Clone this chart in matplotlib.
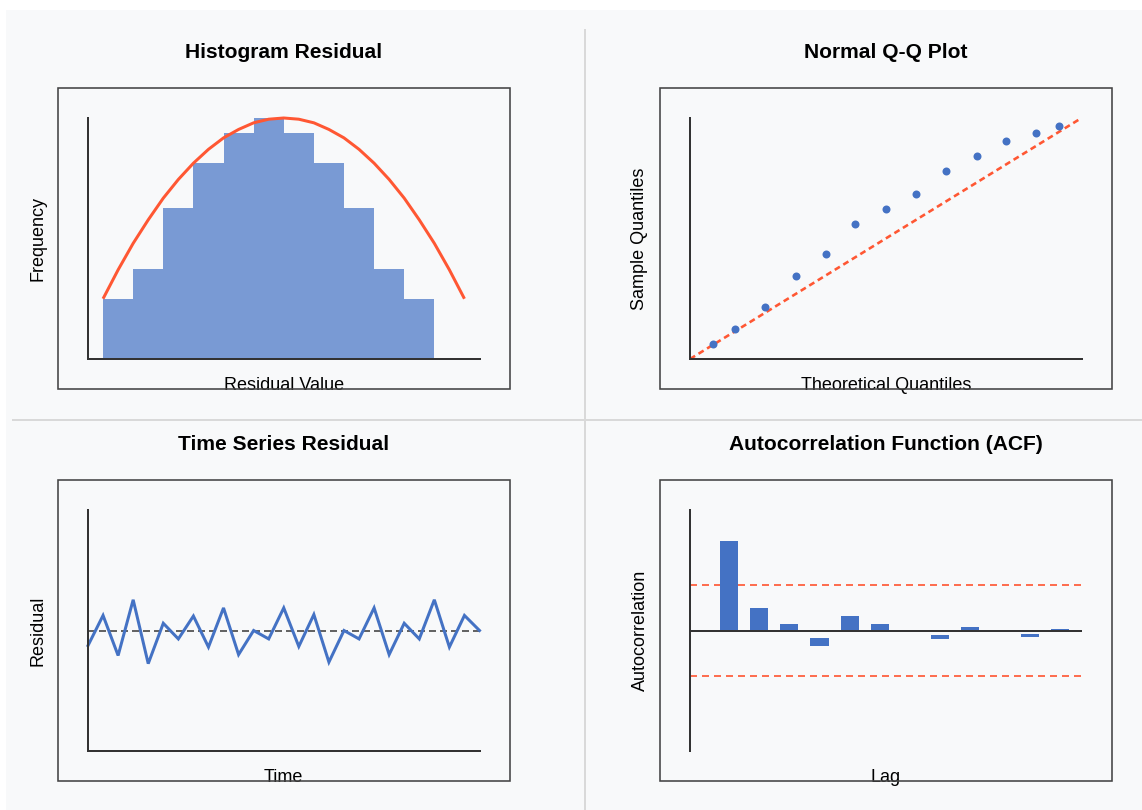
import matplotlib
matplotlib.use("Agg")
import matplotlib.pyplot as plt
from matplotlib.patches import Rectangle
from matplotlib.lines import Line2D

plt.rcParams['font.family'] = ['Liberation Sans', 'DejaVu Sans']
plt.rcParams['lines.scale_dashes'] = False

W, H, DPI = 1142, 810, 100
PT = 0.72  # points per pixel at 100 dpi

# ---------------- data ----------------
titles = ["Histogram Residual", "Normal Q-Q Plot", "Time Series Residual", "Autocorrelation Function (ACF)"]
xlabels = ["Residual Value", "Theoretical Quantiles", "Time", "Lag"]
ylabels = ["Frequency", "Sample Quantiles", "Residual", "Autocorrelation"]

hist_bin_left = [-3.0, -2.5, -2.0, -1.5, -1.0, -0.5, 0.0, 0.5, 1.0, 1.5, 2.0]
hist_freq = [10, 15, 25, 32.5, 37.5, 40, 37.5, 32.5, 25, 15, 10]
curve_x = [-3.0, -2.75, -2.5, -2.25, -2.0, -1.75, -1.5, -1.25, -1.0, -0.75, -0.5, -0.25, 0.0,
           0.25, 0.5, 0.75, 1.0, 1.25, 1.5, 1.75, 2.0, 2.25, 2.5, 2.75, 3.0]
curve_y = [10.0, 14.8, 19.2, 23.1, 26.7, 29.8, 32.5, 34.8, 36.7, 38.1, 39.2, 39.8, 40.0,
           39.8, 39.2, 38.1, 36.7, 34.8, 32.5, 29.8, 26.7, 23.1, 19.2, 14.8, 10.0]

qq_theoretical = [-1.77, -1.54, -1.23, -0.92, -0.61, -0.31, 0.0, 0.31, 0.62, 0.93, 1.23, 1.54, 1.77]
qq_sample = [-1.75, -1.51, -1.13, -0.63, -0.26, 0.24, 0.49, 0.74, 1.12, 1.37, 1.62, 1.75, 1.87]
qq_ref_x = [-2.0, 2.0]
qq_ref_y = [-2.0, 2.0]

ts_time = list(range(27))
ts_resid = [-0.5, 0.5, -0.83, 1.02, -1.1, 0.24, -0.28, 0.48, -0.55, 0.75, -0.8, 0.0, -0.28, 0.75,
            -0.53, 0.53, -1.05, 0.0, -0.28, 0.75, -0.8, 0.24, -0.28, 1.02, -0.55, 0.5, 0.0]

acf_lag = [1, 2, 3, 4, 5, 6, 7, 8, 9, 10, 11, 12]
acf_val = [0.744, 0.185, 0.055, -0.064, 0.121, 0.055, 0.0, -0.036, 0.025, 0.0, -0.025, 0.012]
acf_conf = 0.375

# ---------------- styles ----------------
BG = "#f8f9fa"
BLUE = "#4472c4"
RED = "#ff5733"
AXC = "#333333"

fig = plt.figure(figsize=(W / DPI, H / DPI), dpi=DPI, facecolor="white")

bg = fig.add_axes([0, 0, 1, 1], zorder=-5)
bg.set_xlim(0, W)
bg.set_ylim(H, 0)
bg.axis("off")
bg.add_patch(Rectangle((6, 10), W - 6, H - 10, facecolor=BG, edgecolor="none", zorder=0))
# dividers
bg.add_line(Line2D([585, 585], [30, H], color="#d9d9d9", lw=2 * PT, zorder=1))
bg.add_line(Line2D([13, W], [420, 420], color="#d9d9d9", lw=2 * PT, zorder=1))

boxes = [(57.5, 88), (659.5, 88), (57.5, 480), (659.5, 480)]
BW, BH = 452, 301
ML, MT = 30.5, 30
IW, IH = 391.5, 241


def px_axes(x0, y0, w, h):
    ax = fig.add_axes([x0 / W, 1 - (y0 + h) / H, w / W, h / H])
    ax.set_facecolor("none")
    for s in ["top", "right"]:
        ax.spines[s].set_visible(False)
    for s in ["left", "bottom"]:
        ax.spines[s].set_color(AXC)
        ax.spines[s].set_linewidth(2 * PT)
    ax.set_xticks([])
    ax.set_yticks([])
    return ax


axes = []
for i, (bx, by) in enumerate(boxes):
    rect = Rectangle((bx, by), BW, BH, facecolor="none", edgecolor="#444444", lw=1.6 * PT, zorder=5)
    bg.add_patch(rect)
    cx = bx + ML + IW / 2
    bg.text(bx + BW / 2, by - 30.3, titles[i], ha="center", va="baseline",
            fontsize=21 * PT, fontweight="bold", color="black", zorder=3)
    t = bg.text(cx, by + BH + 0.5, xlabels[i], ha="center", va="baseline",
                fontsize=18 * PT, color="black", zorder=3)
    t.set_clip_path(rect)
    bg.text(bx - 19.5, by + BH / 2, ylabels[i], ha="center", va="center", rotation=90,
            fontsize=18 * PT, color="black", zorder=3)
    axes.append(px_axes(bx + ML, by + MT, IW, IH))

# ---- histogram ----
ax = axes[0]
ax.set_xlim(-3.25, 3.25)
ax.set_ylim(0, 40)
ax.bar(hist_bin_left, hist_freq, width=0.5, align="edge", color=BLUE, alpha=0.7, linewidth=0, zorder=1)
ax.plot(curve_x, curve_y, color=RED, lw=3 * PT, zorder=3, clip_on=False,
        solid_capstyle="butt", solid_joinstyle="round")

# ---- Q-Q ----
ax = axes[1]
ax.set_xlim(-2, 2)
ax.set_ylim(-2, 2)
ax.plot(qq_ref_x, qq_ref_y, color=RED, lw=2.6 * PT, linestyle=(0, (6 * PT, 4 * PT)), zorder=2, clip_on=False)
ax.scatter(qq_theoretical, qq_sample, s=(8 * PT) ** 2, color=BLUE, linewidths=0, zorder=3, clip_on=False)

# ---- time series ----
ax = axes[2]
ax.set_xlim(0, 26)
ax.set_ylim(-4, 4)
ax.axhline(0, color=AXC, lw=1.5 * PT, linestyle=(0, (7 * PT, 4 * PT)), zorder=1)
ax.plot(ts_time, ts_resid, color=BLUE, lw=3 * PT, zorder=2, solid_joinstyle="miter", clip_on=False)

# ---- ACF ----
ax = axes[3]
ax.set_xlim(0, 13)
ax.set_ylim(-1, 1)
ax.spines["bottom"].set_visible(False)
bottoms = [min(v, 0.0) for v in acf_val]
ax.bar(acf_lag, acf_val, bottom=bottoms, width=0.6, align="edge", color=BLUE, linewidth=0, zorder=2)
ax.axhline(0, color=AXC, lw=2 * PT, zorder=3)
for c in (acf_conf, -acf_conf):
    ax.axhline(c, color=RED, alpha=0.85, lw=2 * PT, linestyle=(0, (7 * PT, 5 * PT)), zorder=1)

fig.savefig("out.png", dpi=DPI, facecolor="white")
